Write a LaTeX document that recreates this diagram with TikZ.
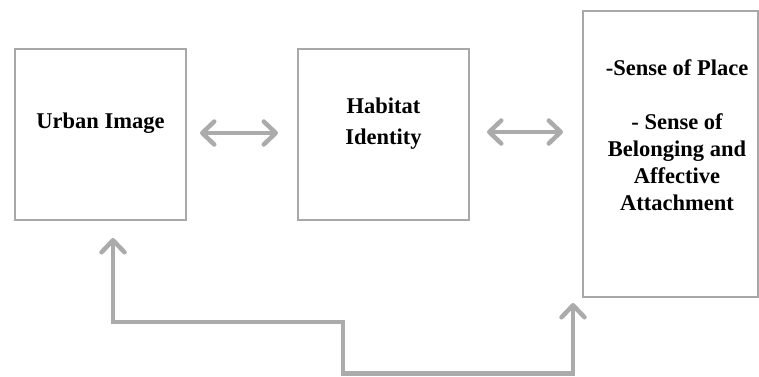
\documentclass[tikz,border=0pt]{standalone}
\usepackage{fontspec}
\setmainfont{Liberation Serif}
\usetikzlibrary{arrows.meta}
\definecolor{boxgray}{HTML}{A8A8A8}
\definecolor{arrgray}{HTML}{ABABAB}
\begin{document}
\begin{tikzpicture}[x=1pt,y=-1pt,
  box/.style={draw=boxgray, line width=2pt, inner sep=0pt},
  lbl/.style={font=\fontsize{22.5}{27}\selectfont\bfseries, align=center, inner sep=0pt},
  conn/.style={draw=arrgray, line width=4.5pt, {Straight Barb[length=12pt,width=23pt,line width=4.5pt,round]}-{Straight Barb[length=12pt,width=23pt,line width=4.5pt,round]}}
]
\useasboundingbox (0,0) rectangle (759,376);
\node[box, minimum width=171pt, minimum height=171pt] (box1) at (100.5,134.5) {};
\node[box, minimum width=171pt, minimum height=171pt] (box2) at (383.5,134.5) {};
\node[box, minimum width=175pt, minimum height=286pt] (box3) at (670.5,154) {};
\node[lbl, anchor=base] (t1) at (100.5,128) {Urban Image};
\node[lbl, anchor=base, font=\fontsize{22.5}{31.5}\selectfont\bfseries] (t2) at (383.5,144.5) {Habitat\\Identity};
\node[lbl, anchor=base] (t3) at (677,210) {-Sense of Place\\[27pt]- Sense of\\Belonging and\\Affective\\Attachment};
\coordinate (a1l) at (200,133);
\coordinate (a1r) at (278,133);
\coordinate (a2l) at (487,132);
\coordinate (a2r) at (563,132);
\draw[conn] (a1l) -- (a1r);
\draw[conn] (a2l) -- (a2r);
\coordinate (c1) at (113,238);
\coordinate (c6) at (573,303);
\draw[conn, line join=miter] (c1) -- (113,322) -- (343,322) -- (343,373.5) -- (573,373.5) -- (c6);
\end{tikzpicture}
\end{document}
